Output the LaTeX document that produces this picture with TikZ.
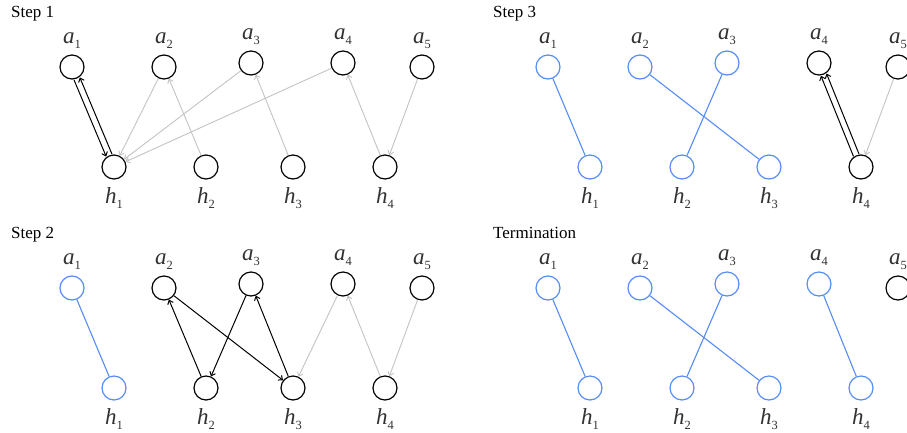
\documentclass[tikz,border=0pt]{standalone}
\usepackage{fontspec}
\setmainfont{Liberation Serif}
\usetikzlibrary{arrows.meta}
\definecolor{mblue}{RGB}{85,140,245}
\definecolor{lgray}{RGB}{195,195,195}
\definecolor{lblc}{RGB}{50,50,50}
\newcommand\sbs[1]{\raisebox{-0.22em}{\fontsize{12.5}{12.5}\selectfont\upshape #1}}
% name, x, y, style, index
\newcommand\av[5]{\node[vtx,#4] (#1) at (#2,#3) {};
  \node[lbl] (#1l) at (#2,#3-24) {a\sbs{#5}};}
\newcommand\hv[5]{\node[vtx,#4] (#1) at (#2,#3) {};
  \node[lbl] (#1l) at (#2,#3+36) {h\sbs{#5}};}
\begin{document}
\begin{tikzpicture}[x=1pt,y=-1pt,
  vtx/.style={circle,draw=black,line width=1.2pt,minimum size=24pt,inner sep=0pt},
  bv/.style={draw=mblue},
  lbl/.style={anchor=base,text=lblc,font=\fontsize{23}{23}\selectfont\itshape,inner sep=0pt},
  ttl/.style={anchor=base west,font=\fontsize{17}{17}\selectfont,inner sep=0pt},
  garr/.style={draw=lgray,line width=0.9pt,-{Straight Barb[length=3.5pt,width=6pt]}},
  barr/.style={draw=black,line width=1pt,-{Straight Barb[length=3.5pt,width=6pt]}},
  matchl/.style={draw=mblue,line width=1.1pt}]
\useasboundingbox (0,0) rectangle (907,432);
\clip (0,0) rectangle (907,432);

% ---------------- Step 1
\node[ttl] (t1) at (11,17) {Step 1};
\av{Aa1}{72}{67}{}{1}
\av{Aa2}{164}{67}{}{2}
\av{Aa3}{251}{63}{}{3}
\av{Aa4}{343}{63}{}{4}
\av{Aa5}{422}{67}{}{5}
\hv{Ah1}{114}{167}{}{1}
\hv{Ah2}{206}{167}{}{2}
\hv{Ah3}{293}{167}{}{3}
\hv{Ah4}{385}{167}{}{4}
\draw[barr,transform canvas={shift={(-2.9pt,-1.2pt)}}] (Aa1) -- (Ah1);
\draw[barr,transform canvas={shift={(2.9pt,1.2pt)}}] (Ah1) -- (Aa1);
\draw[garr] (Aa2) -- (Ah1);
\draw[garr] (Aa3) -- (Ah1);
\draw[garr] (Aa4) -- (Ah1);
\draw[garr] (Ah2) -- (Aa2);
\draw[garr] (Ah3) -- (Aa3);
\draw[garr] (Ah4) -- (Aa4);
\draw[garr] (Aa5) -- (Ah4);

% ---------------- Step 2
\begin{scope}[shift={(0,221)}]
\node[ttl] (t2) at (11,17) {Step 2};
\av{Ba1}{72}{67}{bv}{1}
\av{Ba2}{164}{67}{}{2}
\av{Ba3}{251}{63}{}{3}
\av{Ba4}{343}{63}{}{4}
\av{Ba5}{422}{67}{}{5}
\hv{Bh1}{114}{167}{bv}{1}
\hv{Bh2}{206}{167}{}{2}
\hv{Bh3}{293}{167}{}{3}
\hv{Bh4}{385}{167}{}{4}
\draw[matchl] (Ba1) -- (Bh1);
\draw[barr] (Bh2) -- (Ba2);
\draw[barr] (Ba2) -- (Bh3);
\draw[barr] (Ba3) -- (Bh2);
\draw[barr] (Bh3) -- (Ba3);
\draw[garr] (Ba4) -- (Bh3);
\draw[garr] (Bh4) -- (Ba4);
\draw[garr] (Ba5) -- (Bh4);
\end{scope}

% ---------------- Step 3
\begin{scope}[shift={(476,0)}]
\node[ttl] (t3) at (17,17) {Step 3};
\av{Ca1}{72}{67}{bv}{1}
\av{Ca2}{164}{67}{bv}{2}
\av{Ca3}{251}{63}{bv}{3}
\av{Ca4}{343}{63}{}{4}
\av{Ca5}{422}{67}{}{5}
\hv{Ch1}{114}{167}{bv}{1}
\hv{Ch2}{206}{167}{bv}{2}
\hv{Ch3}{293}{167}{bv}{3}
\hv{Ch4}{385}{167}{}{4}
\draw[matchl] (Ca1) -- (Ch1);
\draw[matchl] (Ca2) -- (Ch3);
\draw[matchl] (Ca3) -- (Ch2);
\draw[barr,transform canvas={shift={(-2.8pt,-1.1pt)}}] (Ch4) -- (Ca4);
\draw[barr,transform canvas={shift={(2.8pt,1.1pt)}}] (Ch4) -- (Ca4);
\draw[garr] (Ca5) -- (Ch4);
\end{scope}

% ---------------- Termination
\begin{scope}[shift={(476,221)}]
\node[ttl] (t4) at (17,17) {Termination};
\av{Da1}{72}{67}{bv}{1}
\av{Da2}{164}{67}{bv}{2}
\av{Da3}{251}{63}{bv}{3}
\av{Da4}{343}{63}{bv}{4}
\av{Da5}{422}{67}{}{5}
\hv{Dh1}{114}{167}{bv}{1}
\hv{Dh2}{206}{167}{bv}{2}
\hv{Dh3}{293}{167}{bv}{3}
\hv{Dh4}{385}{167}{bv}{4}
\draw[matchl] (Da1) -- (Dh1);
\draw[matchl] (Da2) -- (Dh3);
\draw[matchl] (Da3) -- (Dh2);
\draw[matchl] (Da4) -- (Dh4);
\end{scope}
\end{tikzpicture}
\end{document}
